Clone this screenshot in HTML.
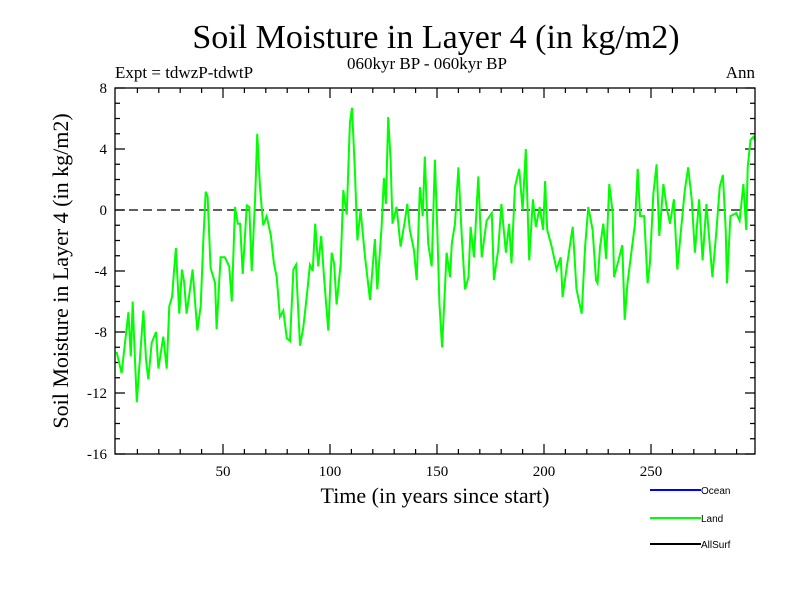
<!DOCTYPE html>
<html><head><meta charset="utf-8"><style>
body{margin:0;background:#fff}
svg{display:block}
text{font-family:"Liberation Serif",serif;fill:#000}
.lg{font-family:"Liberation Sans",sans-serif;font-size:10px}
</style></head><body>
<svg id="chart" width="800" height="600" viewBox="0 0 800 600">
<rect width="800" height="600" fill="#fff"/>
<text x="436" y="48" font-size="34" text-anchor="middle">Soil Moisture in Layer 4 (in kg/m2)</text>
<text x="427" y="69" font-size="17" text-anchor="middle">060kyr BP - 060kyr BP</text>
<text x="115" y="78" font-size="17">Expt = tdwzP-tdwtP</text>
<text x="755" y="78" font-size="17" text-anchor="end">Ann</text>
<text x="435" y="503" font-size="22" text-anchor="middle">Time (in years since start)</text>
<text transform="translate(68,271) rotate(-90)" font-size="22" text-anchor="middle">Soil Moisture in Layer 4 (in kg/m2)</text>
<g id="axes"></g>
<line x1="650" y1="490" x2="701" y2="490" stroke="#0000ff" stroke-width="2"/>
<text class="lg" x="701" y="494">Ocean</text>
<line x1="650" y1="518" x2="701" y2="518" stroke="#00ff00" stroke-width="2"/>
<text class="lg" x="701" y="522">Land</text>
<line x1="650" y1="544" x2="701" y2="544" stroke="#000" stroke-width="2"/>
<text class="lg" x="701" y="548">AllSurf</text>
</svg>
<script>
const years=[0.3,2.6,4.2,5.8,6.9,7.8,8.4,9.7,10.9,12.8,14,15.1,16.7,18.7,19.8,22.1,23.7,24.9,26.2,27.1,28,29.6,30.8,31.8,33,34.6,35.8,38,39.6,40.8,41.9,42.8,44.2,46.3,47,48.9,50.9,52.9,54.1,55.6,56.9,58,59.2,61.1,62.3,63.4,65,66,67.3,68.8,70.4,72.4,73.8,75.1,76.6,78.2,79.8,81.3,82.9,84.1,86,87.5,89.1,90.6,91.9,93.1,94.5,95.9,97.2,99.2,100.8,101.9,103.1,105,106.2,107.8,109.3,110.3,111.7,112.8,114.3,116.3,118.7,121,122.1,124.1,125.2,126.1,127.2,128.3,129.2,131.1,133,135,136.1,137.3,139.2,140.5,142,143.3,144.3,145.9,147.5,149,150.2,151.1,152.4,153.7,154.5,156.1,156.9,158.4,160,161.5,163.1,164.7,165.7,167.3,169.3,170.9,173.2,175.6,176.6,178.6,180.1,182.2,183.7,184.8,186.4,188.4,190,191.5,193.1,194.8,196.2,198,199.6,200.5,201.5,203.6,205.9,207.8,208.7,210.9,213.4,215.2,217.6,219.2,220.7,222.7,224.3,225,226.2,227.7,229,230.5,232.1,232.7,234.8,236.6,237.7,239,241,242.5,243.8,244.9,246.8,248.4,249.5,251.1,252.6,253.9,255.8,257.3,258.9,260.7,262.3,264.3,265.8,267.4,269,270.5,272.5,274.1,275.9,278.7,280.6,282.1,283.6,284.9,285.5,287.1,289.8,291.4,293.2,294.5,295.2,296.5,297.9,299.1];
const land=[-9.3,-10.7,-8.7,-6.7,-9.6,-6.0,-8.3,-12.6,-10.3,-6.6,-9.8,-11.1,-8.7,-8.0,-10.4,-8.3,-10.4,-6.3,-5.7,-4.0,-2.5,-6.8,-3.9,-4.7,-6.8,-5.2,-3.9,-7.9,-6.3,-2.0,1.2,0.9,-3.8,-4.8,-7.8,-3.1,-3.1,-3.7,-6.0,0.2,-0.9,-0.9,-4.2,0.3,0.2,-4.0,0.7,5.0,1.5,-1.0,-0.4,-1.7,-3.5,-4.4,-7.0,-6.6,-8.4,-8.6,-3.9,-3.6,-8.9,-7.7,-5.7,-3.6,-4.0,-0.9,-3.7,-1.7,-4.4,-7.9,-2.8,-3.5,-6.2,-3.5,1.3,-0.3,5.7,6.7,2.4,-2.0,0,-3.0,-5.9,-1.9,-5.2,-1.1,2.1,0.4,6.1,3.3,-0.9,0.2,-2.4,-0.7,0.4,-1.3,-2.6,-4.6,1.5,-0.4,3.5,-2.2,-3.7,3.3,-1.5,-6.1,-9.0,-5.2,-2.8,-4.4,-2.2,-0.9,2.8,-1.5,-5.2,-4.4,-1.1,-3.1,2.2,-3.1,-0.7,-0.2,-4.6,-2.6,0.4,-2.8,-0.9,-3.5,1.5,2.7,0,4.0,-3.3,0.7,-1.1,0.2,-1.3,1.9,-1.3,-2.4,-3.9,-3.1,-5.7,-3.5,-1.1,-5.2,-6.8,-2.4,0.2,-1.3,-4.6,-4.8,-2.4,-0.9,-3.2,1.7,-0.2,-4.4,-3.3,-2.3,-7.2,-4.8,-2.6,-0.9,2.7,-0.4,-0.4,-4.8,-3.5,1.1,3.0,-1.7,1.7,0.2,-0.9,0.7,-3.9,-0.9,1.3,2.8,0.7,-2.8,0.7,-3.3,0.4,-4.4,-1.3,1.5,2.3,-1.3,-4.8,-0.4,-0.2,-0.7,1.7,-1.3,2.8,4.6,4.8,4.4];
const yTicks=[-16,-12,-8,-4,0,4,8];
const xTicks=[50,100,150,200,250];
const NS="http://www.w3.org/2000/svg";
const L=115,R=755,T=88,B=454;
const xs=t=>116+2.14*t;
const ys=v=>T+(8-v)*(B-T)/24;
const g=document.getElementById('axes');
function mk(tag,attrs,parent){const e=document.createElementNS(NS,tag);for(const k in attrs)e.setAttribute(k,attrs[k]);(parent||g).appendChild(e);return e;}
let d='';
for(let v=-16;v<=8;v++){const y=ys(v);const len=(v%4===0)?10:5;d+=`M${L},${y}h${len}M${R},${y}h${-len}`;}
for(let t=10;t<=290;t+=10){const x=xs(t);const len=(t%50===0)?10:5;d+=`M${x},${B}v${-len}M${x},${T}v${len}`;}
const ticks=mk('path',{d:d,stroke:'#000','stroke-width':1.2,fill:'none'});


yTicks.forEach(v=>{const t=mk('text',{x:L-8,y:ys(v)+5,'font-size':15,'text-anchor':'end'});t.textContent=v;

});
xTicks.forEach(v=>{const t=mk('text',{x:xs(v),y:B+22,'font-size':15,'text-anchor':'middle'});t.textContent=v;

});
const zero=mk('line',{x1:L,x2:R,y1:ys(0),y2:ys(0),stroke:'#000','stroke-width':1.3,'stroke-dasharray':'9,5'});


const cp=mk('clipPath',{id:'clip'});mk('rect',{x:L,y:T,width:R-L,height:B-T},cp);
const pts=years.map((t,i)=>xs(t).toFixed(1)+','+ys(land[i]).toFixed(1)).join(' ');
const line=mk('polyline',{points:pts,fill:'none',stroke:'#00ff00','stroke-width':2,'clip-path':'url(#clip)'});


const frame=mk('rect',{x:L,y:T,width:R-L,height:B-T,fill:'none',stroke:'#000','stroke-width':1.3});


</script>
</body></html>
